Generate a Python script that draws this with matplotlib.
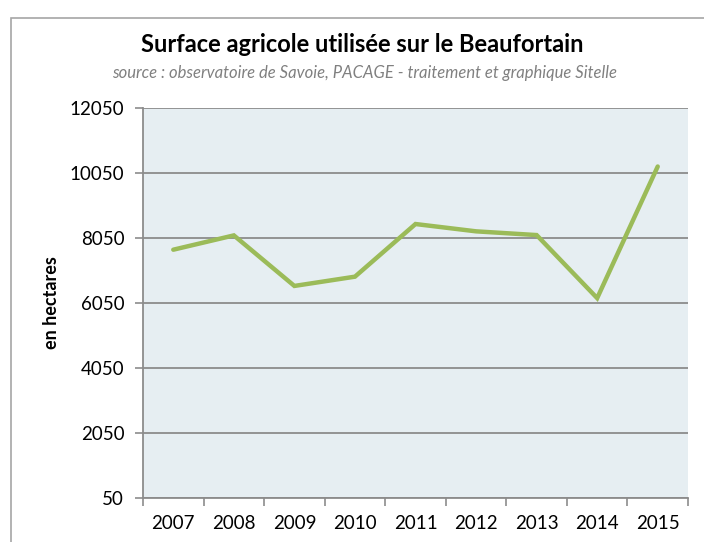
import matplotlib.pyplot as plt
from matplotlib.patches import Rectangle

years = ["2007", "2008", "2009", "2010", "2011", "2012", "2013", "2014", "2015"]
surface_ha = [7690, 8130, 6575, 6860, 8480, 8255, 8140, 6200, 10250]
y_ticks = [50, 2050, 4050, 6050, 8050, 10050, 12050]

plt.rcParams['font.family'] = ['Lato', 'DejaVu Sans']

fig = plt.figure(figsize=(7.04, 5.42), dpi=100)
W, H = 704, 542

# frame around the chart, cut off on the right and bottom
fig.patches.append(Rectangle((11 / W, -0.1), 1.2, 1 - 18 / H + 0.1,
                             transform=fig.transFigure, fill=False,
                             edgecolor='#a6a6a6', linewidth=1.2))

ax = fig.add_axes([143 / W, 1 - 498 / H, (688 - 143) / W, (498 - 108) / H])
ax.set_facecolor('#e6eef2')

x = list(range(len(years)))
ax.plot(x, surface_ha, color='#9bbb59', linewidth=3.2, solid_joinstyle='miter',
        solid_capstyle='round', zorder=3)

ax.set_xlim(-0.5, len(years) - 0.5)
ax.set_ylim(50, 12050)
ax.set_yticks(y_ticks)
ax.set_yticklabels([str(v) for v in y_ticks])
ax.set_xticks(x)
ax.set_xticklabels(years)
ax.set_xticks([i - 0.5 for i in range(len(years) + 1)], minor=True)
ax.tick_params(axis='x', which='major', length=0, pad=12, labelsize=13.5)
ax.tick_params(axis='x', which='minor', length=5.5, color='#8c8c8c', width=1.2)
ax.tick_params(axis='y', length=5.5, color='#8c8c8c', width=1.2, pad=8,
               labelsize=13.5)

ax.grid(axis='y', color='#8c8c8c', linewidth=1.3)
ax.set_axisbelow(True)
for side in ['top', 'right']:
    ax.spines[side].set_visible(False)
for side in ['left', 'bottom']:
    ax.spines[side].set_color('#8c8c8c')
    ax.spines[side].set_linewidth(1.3)

ax.set_ylabel('en hectares', fontsize=13, fontweight='bold')
ax.yaxis.set_label_coords((60 - 143) / 545, 0.5)

fig.text(362 / W, 1 - 45 / H, 'Surface agricole utilisée sur le Beaufortain',
         ha='center', va='center', fontsize=17, fontweight='bold')
fig.text(365 / W, 1 - 73 / H,
         'source : observatoire de Savoie, PACAGE - traitement et graphique Sitelle',
         ha='center', va='center', fontsize=12, style='italic', color='#808080')

fig.savefig('out.png', dpi=100)
